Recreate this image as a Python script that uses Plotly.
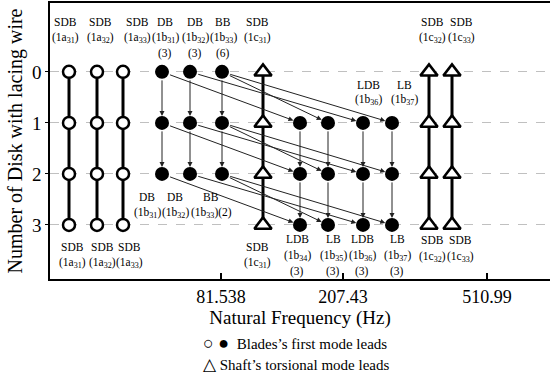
import plotly.graph_objects as go

# ---- data -------------------------------------------------------------
# Modes grouped by family; the number is the slot of each mode along the
# (ordered, non-linear) natural-frequency axis.
open_modes = ["1a31", "1a32", "1a33"]          # blade modes, unchanged by lacing wire
upper_modes = ["1b31", "1b32", "1b33"]         # blade modes present for 0-2 disks
lower_modes = ["1b34", "1b35", "1b36", "1b37"] # blade modes present for 1-3 disks
shaft_modes = ["1c31", "1c32", "1c33"]         # shaft torsional modes

mode_freq_pos = {
    "1a31": 19, "1a32": 47, "1a33": 73,
    "1b31": 112, "1b32": 140, "1b33": 172,
    "1c31": 213,
    "1b34": 250, "1b35": 278, "1b36": 313, "1b37": 342,
    "1c32": 379, "1c33": 402,
}
mode_type = {
    "1a31": "SDB", "1a32": "SDB", "1a33": "SDB",
    "1b31": "DB", "1b32": "DB", "1b33": "BB",
    "1b34": "LDB", "1b35": "LB", "1b36": "LDB", "1b37": "LB",
    "1c31": "SDB", "1c32": "SDB", "1c33": "SDB",
}

open_rows = [0, 1, 2, 3]
upper_rows = [0, 1, 2]
lower_rows = [1, 2, 3]
shaft_rows = [0, 1, 2, 3]

# mode transfer when one more disk gets a lacing wire
links = [("1b31", "1b34"), ("1b32", "1b36"), ("1b33", "1b35"), ("1b33", "1b37")]

freq_ticks = [171, 293, 437]
freq_labels = ["81.538", "207.43", "510.99"]
disk_ticks = [0, 1, 2, 3]
disk_labels = ["0", "1", "2", "3"]

top_counts = {"1b31": "(3)", "1b32": "(3)", "1b33": "(6)"}
bottom_counts = {"1b34": "(3)", "1b35": "(3)", "1b36": "(3)", "1b37": "(3)"}

# ---- label placement --------------------------------------------------
# (mode, x, y of type name, y of code)
top_label_pos = [
    ("1a31", 15, -0.97, -0.66), ("1a32", 50, -0.97, -0.66), ("1a33", 87, -0.97, -0.66),
    ("1b31", 115, -0.97, -0.66), ("1b32", 145, -0.97, -0.66), ("1b33", 173, -0.97, -0.66),
    ("1c31", 207, -0.97, -0.66), ("1c32", 382, -0.97, -0.66), ("1c33", 411, -0.97, -0.66),
]
bottom_label_pos = [
    ("1a31", 22, 3.43, 3.75), ("1a32", 52, 3.43, 3.75), ("1a33", 79, 3.43, 3.75),
    ("1c31", 207, 3.43, 3.75),
    ("1b34", 247, 3.27, 3.60), ("1b35", 283, 3.27, 3.60),
    ("1b36", 312, 3.27, 3.60), ("1b37", 347, 3.27, 3.60),
    ("1c32", 382, 3.29, 3.62), ("1c33", 410, 3.29, 3.62),
]
mid_low_label_pos = [("1b31", 97), ("1b32", 125), ("1b33", 161)]   # between rows 2 and 3
mid_up_label_pos = [("1b36", 318), ("1b37", 354)]                  # between rows 0 and 1

SERIF = "Liberation Serif"
LBL = dict(family=SERIF, size=11.5, color="black")


def code_text(mode):
    return "(%s<sub>%s</sub>)" % (mode[:2], mode[2:])


fig = go.Figure()

# open-circle blade modes: continuous thick line through all rows
for m in open_modes:
    fig.add_trace(go.Scatter(
        x=[mode_freq_pos[m]] * len(open_rows), y=open_rows, mode="lines+markers",
        line=dict(color="black", width=3),
        marker=dict(symbol="circle", size=12, color="white",
                    line=dict(color="black", width=2.5)),
        showlegend=False, hoverinfo="skip"))

# shaft torsional modes: thick line with open triangles
for m in shaft_modes:
    fig.add_trace(go.Scatter(
        x=[mode_freq_pos[m]] * len(shaft_rows), y=shaft_rows, mode="lines+markers",
        line=dict(color="black", width=3),
        marker=dict(symbol="triangle-up", size=15, color="white",
                    line=dict(color="black", width=2.5)),
        showlegend=False, hoverinfo="skip"))

# filled blade modes
for group, rows in ((upper_modes, upper_rows), (lower_modes, lower_rows)):
    for m in group:
        fig.add_trace(go.Scatter(
            x=[mode_freq_pos[m]] * len(rows), y=rows, mode="markers",
            marker=dict(symbol="circle", size=14, color="black"),
            showlegend=False, hoverinfo="skip"))

arrow_style = dict(showarrow=True, arrowhead=2, arrowsize=1.0, arrowwidth=1,
                   arrowcolor="#222222", axref="x", ayref="y",
                   standoff=7, startstandoff=7, text="")

# vertical arrows: same mode, one more disk
for group, rows in ((upper_modes, upper_rows), (lower_modes, lower_rows)):
    for m in group:
        for r0, r1 in zip(rows[:-1], rows[1:]):
            fig.add_annotation(x=mode_freq_pos[m], y=r1,
                               ax=mode_freq_pos[m], ay=r0, **arrow_style)

# diagonal arrows: mode transfer
for r in range(3):
    for src, dst in links:
        fig.add_annotation(x=mode_freq_pos[dst], y=r + 1,
                           ax=mode_freq_pos[src], ay=r, **arrow_style)

# labels above row 0
for m, x, y_name, y_code in top_label_pos:
    fig.add_annotation(x=x, y=y_name, text=mode_type[m], showarrow=False, font=LBL)
    fig.add_annotation(x=x, y=y_code, text=code_text(m), showarrow=False, font=LBL)
    if m in top_counts:
        fig.add_annotation(x=x, y=-0.36, text=top_counts[m], showarrow=False, font=LBL)

# labels below row 3
for m, x, y_name, y_code in bottom_label_pos:
    fig.add_annotation(x=x, y=y_name, text=mode_type[m], showarrow=False, font=LBL)
    fig.add_annotation(x=x, y=y_code, text=code_text(m), showarrow=False, font=LBL)
    if m in bottom_counts:
        fig.add_annotation(x=x, y=3.92, text=bottom_counts[m], showarrow=False, font=LBL)

# labels between rows
for m, x in mid_low_label_pos:
    code = code_text(m) + ("(2)" if m == "1b33" else "")
    fig.add_annotation(x=x, y=2.45, text=mode_type[m], showarrow=False, font=LBL)
    fig.add_annotation(x=x, y=2.77, text=code, showarrow=False, font=LBL)
for m, x in mid_up_label_pos:
    fig.add_annotation(x=x, y=0.25, text=mode_type[m], showarrow=False, font=LBL)
    fig.add_annotation(x=x, y=0.56, text=code_text(m), showarrow=False, font=LBL)

# key below the axis title
KEY = dict(family=SERIF, size=15, color="black")
fig.add_annotation(xref="paper", yref="paper", x=0.302, y=-0.232, xanchor="left",
                   yanchor="middle",
                   text="<span style='font-size:18px'>○ ●</span>  Blades’s first mode leads",
                   showarrow=False, font=KEY)
fig.add_annotation(xref="paper", yref="paper", x=0.302, y=-0.308, xanchor="left",
                   yanchor="middle",
                   text="<span style='font-size:17px'>△</span> Shaft’s torsional mode leads",
                   showarrow=False, font=KEY)

fig.update_layout(
    width=550, height=375,
    margin=dict(l=50, r=0, t=3, b=96),
    paper_bgcolor="white", plot_bgcolor="white",
    font=dict(family=SERIF, color="black"),
    xaxis=dict(
        range=[0, 500], tickvals=freq_ticks, ticktext=freq_labels,
        ticks="inside", ticklen=6, tickwidth=1.5, tickcolor="black",
        tickfont=dict(family=SERIF, size=18),
        showgrid=False, zeroline=False,
        showline=True, linecolor="black", linewidth=2, mirror=True,
        title=dict(text="Natural Frequency (Hz)", font=dict(family=SERIF, size=19),
                   standoff=4),
    ),
    yaxis=dict(
        range=[4.06, -1.35], tickvals=disk_ticks, ticktext=disk_labels,
        ticks="outside", ticklen=3, tickcolor="black",
        tickfont=dict(family=SERIF, size=19),
        showgrid=True, gridcolor="#c0c0c0", griddash="dash", gridwidth=1,
        zeroline=False, showline=True, linecolor="black", linewidth=1.5,
        title=dict(text="Number of Disk with lacing wire",
                   font=dict(family=SERIF, size=20), standoff=4),
    ),
)

fig.write_html("out.html")
